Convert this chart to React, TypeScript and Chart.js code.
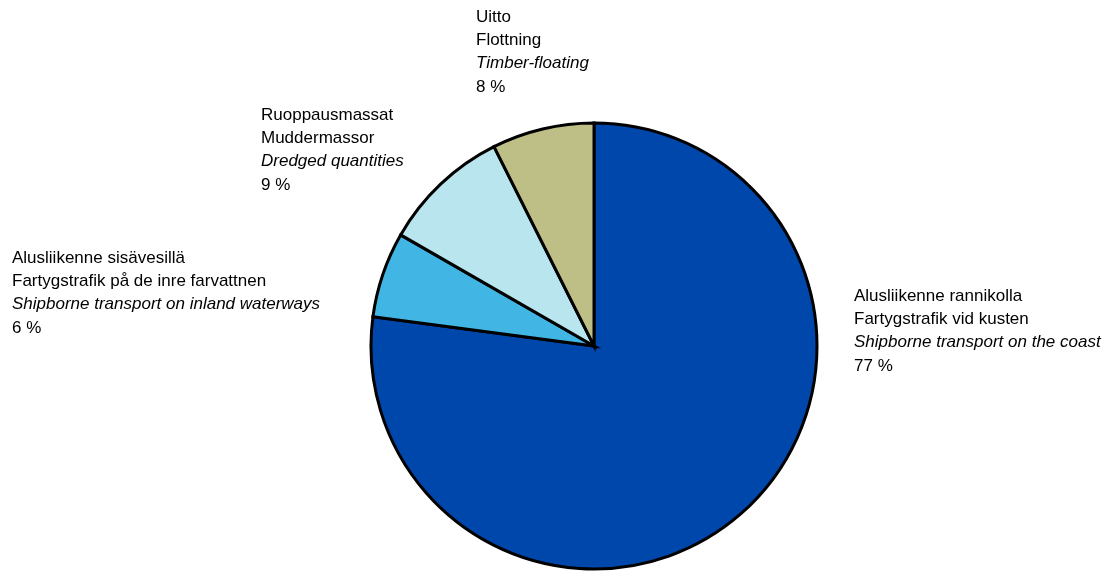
import React, { useEffect, useRef } from "react";
import { Chart, registerables } from "chart.js";

Chart.register(...registerables);

const categories = [
  "Alusliikenne rannikolla",
  "Alusliikenne sisävesillä",
  "Ruoppausmassat",
  "Uitto",
];
const shares = [77.1, 6.2, 9.3, 7.4];
const colors = ["#0047AB", "#41B6E4", "#B8E5EE", "#BDBF86"];
const labelLinesFi = categories;
const labelLinesSv = [
  "Fartygstrafik vid kusten",
  "Fartygstrafik på de inre farvattnen",
  "Muddermassor",
  "Flottning",
];
const labelLinesEn = [
  "Shipborne transport on the coast",
  "Shipborne transport on inland waterways",
  "Dredged quantities",
  "Timber-floating",
];
const percentLabels = ["77 %", "6 %", "9 %", "8 %"];

// label placement (offset from pie centre, px): left x of text, centre y of first line
const labelOffsets = [
  { dx: 260, dy: -50 },
  { dx: -582, dy: -88 },
  { dx: -333, dy: -231 },
  { dx: -118, dy: -329 },
];

const FONT = "Liberation Sans, Arial, sans-serif";
const FONT_SIZE = 17;
const LINE_H = 23.3;

const labelPlugin = {
  id: "sliceLabels",
  afterDraw(chart: any) {
    const meta = chart.getDatasetMeta(0);
    const arc = meta.data[0];
    if (!arc) return;
    const cx = arc.x;
    const cy = arc.y;
    const ctx = chart.ctx;
    ctx.save();
    ctx.fillStyle = "#000";
    ctx.textAlign = "left";
    ctx.textBaseline = "middle";
    for (let i = 0; i < categories.length; i++) {
      const x = cx + labelOffsets[i].dx;
      const y0 = cy + labelOffsets[i].dy;
      const lines = [
        { t: labelLinesFi[i], it: false },
        { t: labelLinesSv[i], it: false },
        { t: labelLinesEn[i], it: true },
        { t: percentLabels[i], it: false },
      ];
      lines.forEach((l, k) => {
        ctx.font = `${l.it ? "italic " : ""}${FONT_SIZE}px ${FONT}`;
        ctx.fillText(l.t, x, y0 + k * LINE_H);
      });
    }
    ctx.restore();
  },
};

export default function App() {
  const ref = useRef<HTMLCanvasElement | null>(null);
  useEffect(() => {
    if (!ref.current) return;
    const chart = new Chart(ref.current, {
      type: "pie",
      data: {
        labels: categories,
        datasets: [
          {
            data: shares,
            backgroundColor: colors,
            borderColor: "#000",
            borderWidth: 3,
            borderJoinStyle: "miter",
          } as any,
        ],
      },
      options: {
        responsive: false,
        animation: false,
        radius: 223,
        layout: { padding: { left: 83, right: 0, top: 121, bottom: 0 } },
        plugins: {
          legend: { display: false },
          tooltip: { enabled: false },
          title: { display: false },
        },
      } as any,
      plugins: [labelPlugin],
    });
    return () => chart.destroy();
  }, []);
  return (
    <div style={{ position: "fixed", left: 0, top: 0, width: 1105, height: 571, background: "#fff" }}>
      <canvas ref={ref} width={1105} height={571} />
    </div>
  );
}
